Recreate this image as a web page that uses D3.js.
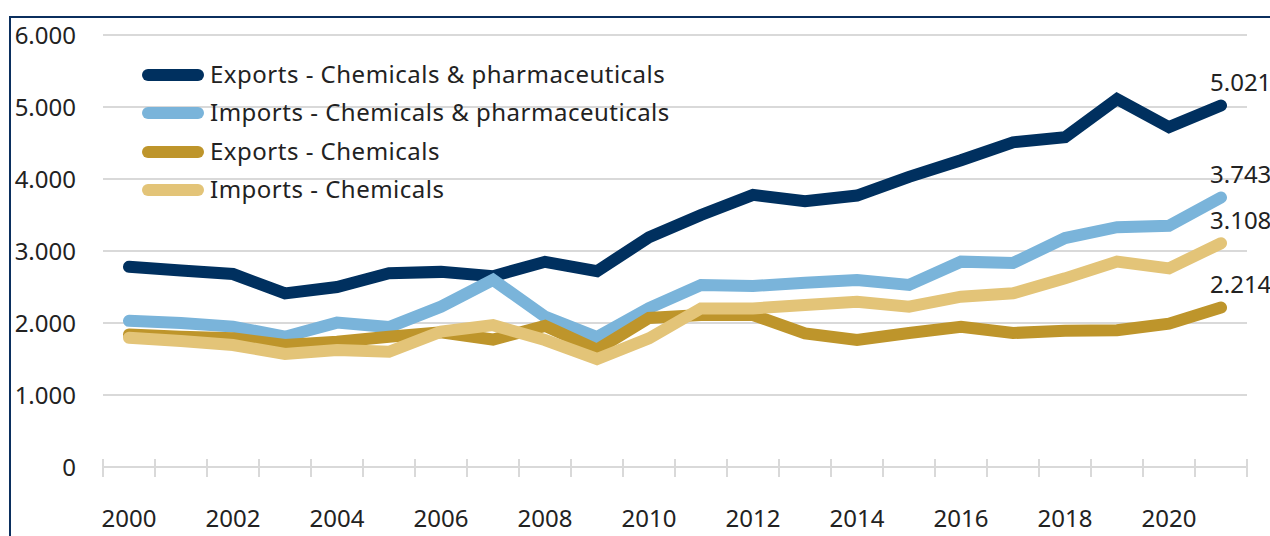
<!DOCTYPE html>
<html><head><meta charset="utf-8">
<script src="https://cdn.jsdelivr.net/npm/d3@7"></script>
<style>
html,body{margin:0;padding:0;background:#fff;}
svg{display:block;font-family:"Noto Sans",sans-serif;}
</style></head>
<body><svg id="c" width="1270" height="536"></svg>
<script>
const years = d3.range(2000, 2022);
const seriesNames = ["Exports - Chemicals & pharmaceuticals","Imports - Chemicals & pharmaceuticals","Exports - Chemicals","Imports - Chemicals"];
const seriesColors = ["#00305f","#7ab4da","#be952b","#e3c478"];
const exportsChemPharma = [2780,2730,2680,2410,2500,2690,2710,2650,2850,2720,3190,3500,3780,3690,3770,4030,4260,4510,4580,5110,4720,5021];
const importsChemPharma = [2030,2000,1950,1810,2005,1944,2227,2600,2088,1805,2208,2528,2514,2560,2597,2528,2852,2833,3180,3330,3350,3743];
const exportsChem = [1840,1810,1787,1694,1740,1810,1870,1770,1960,1630,2070,2111,2111,1856,1764,1861,1949,1861,1894,1900,1990,2214];
const importsChem = [1795,1750,1694,1570,1625,1600,1880,1970,1764,1500,1787,2203,2203,2250,2296,2226,2365,2412,2620,2852,2759,3108];
const yTicks = [0,1000,2000,3000,4000,5000,6000];
const xLabelYears = [2000,2002,2004,2006,2008,2010,2012,2014,2016,2018,2020];

const allSeries = [exportsChemPharma, importsChemPharma, exportsChem, importsChem];
const fmt = d3.formatLocale({decimal:",", thousands:".", grouping:[3], currency:["",""]}).format(",");

const svg = d3.select("#c");
const x = d3.scaleBand().domain(years).range([103,1247]);
const y = d3.scaleLinear().domain([0,6000]).range([467,35]);
const cx = d => x(d) + x.bandwidth()/2;

// frame
svg.append("path").attr("d","M10,536V17H1270").attr("fill","none").attr("stroke","#0b2f5e").attr("stroke-width",2);

// gridlines
svg.append("g").selectAll("line").data(yTicks.filter(v=>v>0)).join("line")
  .attr("x1",103).attr("x2",1247).attr("y1",d=>y(d)).attr("y2",d=>y(d))
  .attr("stroke","#d9d9d9").attr("stroke-width",2);

// x axis line and ticks
svg.append("line").attr("x1",103).attr("x2",1247).attr("y1",y(0)).attr("y2",y(0)).attr("stroke","#d9d9d9").attr("stroke-width",2);
const edges = years.map(d=>x(d)).concat([x(2021)+x.bandwidth()]);
svg.append("g").selectAll("line").data(edges).join("line")
  .attr("x1",d=>d).attr("x2",d=>d).attr("y1",y(0)-8).attr("y2",y(0)+10)
  .attr("stroke","#d9d9d9").attr("stroke-width",2);

// y labels
svg.append("g").selectAll("text").data(yTicks).join("text")
  .attr("x",76).attr("y",d=>y(d)+1).attr("dy","0.35em").attr("text-anchor","end")
  .attr("font-size",24).attr("fill","#222").text(d=>fmt(d));

// x labels
svg.append("g").selectAll("text").data(xLabelYears).join("text")
  .attr("x",d=>cx(d)).attr("y",519).attr("dy","0.35em").attr("text-anchor","middle")
  .attr("font-size",24).attr("fill","#222").text(d=>d);

// lines
const line = d3.line().x((d,i)=>cx(years[i])).y(d=>y(d));
allSeries.forEach((s,k)=>{
  svg.append("path").datum(s).attr("d",line).attr("fill","none")
    .attr("stroke",seriesColors[k]).attr("stroke-width",12)
    .attr("stroke-linecap","round").attr("stroke-linejoin","miter");
});

// end labels
allSeries.forEach((s,k)=>{
  const v = s[s.length-1];
  svg.append("text").attr("x",cx(2021)-11).attr("y",y(v)-23).attr("dy","0.35em")
    .attr("font-size",24).attr("fill","#222").text(fmt(v));
});

// legend
const ly = [75,113,152,190];
seriesNames.forEach((n,k)=>{
  svg.append("line").attr("x1",148).attr("x2",198).attr("y1",ly[k]).attr("y2",ly[k])
    .attr("stroke",seriesColors[k]).attr("stroke-width",12).attr("stroke-linecap","round");
  svg.append("text").attr("x",210).attr("y",ly[k]).attr("dy","0.35em")
    .attr("font-size",24).attr("letter-spacing",0.5).attr("fill","#222").text(n);
});
</script></body></html>
